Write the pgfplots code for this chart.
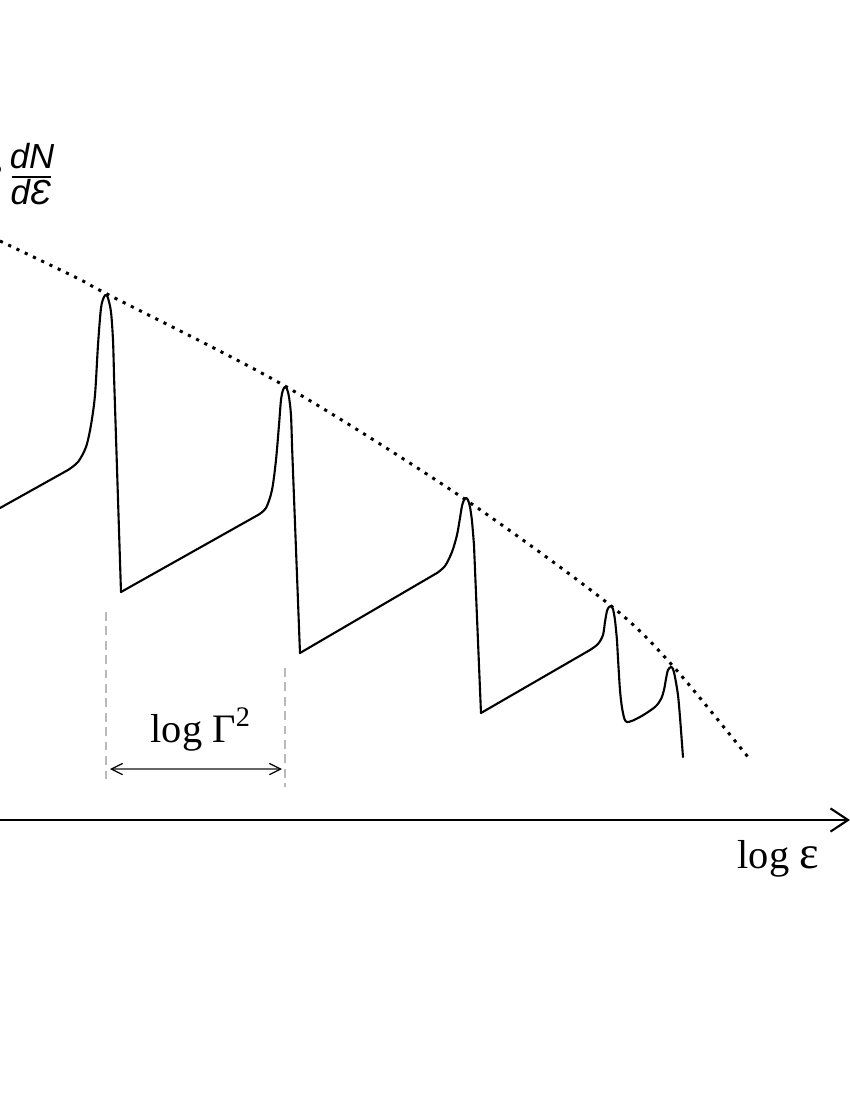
\documentclass[border=0pt]{standalone}
\usepackage{fontspec}
\setmainfont{Liberation Serif}
\newfontfamily\labelsans{Liberation Sans}
\usepackage{graphicx}
\usepackage{pgfplots}
\pgfplotsset{compat=1.18}
\usetikzlibrary{arrows.meta}

% coordinates are in pixels of the 850x1100 sketch, y counted downwards
\pgfplotsset{
  saw/.style={black, line width=0.6pt, no markers, line cap=round, line join=round},
  envelope/.style={black, line width=0.85pt, no markers, smooth, dash pattern=on 0.9pt off 1.7pt},
}

\begin{document}
\begin{tikzpicture}
\useasboundingbox (0,0) rectangle (8.5cm,11cm);
\begin{axis}[
  at={(0,0)}, anchor=south west,
  scale only axis, width=8.5cm, height=11cm,
  xmin=0, xmax=850, ymin=0, ymax=1100,
  y dir=reverse,
  hide axis, clip=false,
]
% envelope
\addplot[envelope] coordinates {
  (0,241) (77,278) (107,294) (285,386) (463,498) (610,605) (672,665) (748,757)
};

% tooth 1
\addplot[saw] coordinates {(0,508) (68,470)};
\addplot[saw, smooth] coordinates {
  (68,470) (78,462) (86,447) (91,425) (95,395) (98,345) (101,308) (104,297) (106,295) (108,298) (111,312) (113,340) (114,375)
};
\addplot[saw] coordinates {(114,375) (121,592)};

% tooth 2
\addplot[saw] coordinates {(121,592) (258,515)};
\addplot[saw, smooth] coordinates {
  (258,515) (266,508) (272,490) (276,460) (279,425) (281,400) (283,390) (285,387) (287,389) (289,397) (291,415) (292,445)
};
\addplot[saw] coordinates {(292,445) (300,653)};

% tooth 3
\addplot[saw] coordinates {(300,653) (437,573)};
\addplot[saw, smooth] coordinates {
  (437,573) (445,566) (452,552) (457,535) (460,518) (462,506) (464,500) (466,498) (468,500) (470,507) (472,521) (474,545)
};
\addplot[saw] coordinates {(474,545) (481,713)};

% tooth 4
\addplot[saw] coordinates {(481,713) (590,650)};
\addplot[saw, smooth] coordinates {
  (590,650) (598,644) (603,635) (605,622) (607,611) (609,607) (611,606) (613,609) (615,620) (617,640)
};
\addplot[saw, smooth] coordinates {
  (617,640) (620,690) (623,713) (627,722) (640,717) (655,707) (661,699) (664,690) (666,679) (668,670) (671,667) (673,669) (675,677) (678,695) (680,717) (683,757)
};

% log Gamma^2 spacing
\draw[gray!55, line width=0.4pt, dash pattern=on 2.5pt off 1.6pt] (axis cs:106,612) -- (axis cs:106,783);
\draw[gray!55, line width=0.4pt, dash pattern=on 2.5pt off 1.6pt] (axis cs:285,668) -- (axis cs:285,787);
\draw[gray!80!black, line width=0.35pt,
  {Straight Barb[length=3.2pt,width=3.2pt,color=black]}-{Straight Barb[length=3.2pt,width=3.2pt,color=black]}]
  (axis cs:110,769) -- (axis cs:282,769);
\node[anchor=base west, inner sep=0pt, font=\fontsize{11.5}{13}\selectfont] at (axis cs:150,742) {log Γ\textsuperscript{2}};

% energy axis
\draw[black, line width=0.6pt, -{Straight Barb[length=5pt,width=6.6pt]}] (axis cs:-20,820) -- (axis cs:850,820);
\node[anchor=base west, inner sep=0pt, font=\fontsize{11.5}{13}\selectfont] at (axis cs:737,868) {log \scalebox{1.15}{ε}};

% y label (cut at the left edge, as in the sketch)
\node[anchor=base, inner sep=0pt, font=\labelsans\itshape\fontsize{9.9}{11}\selectfont] at (axis cs:32,169) {dN};
\draw[black, line width=0.75pt] (axis cs:12,177) -- (axis cs:51,177);
\node[anchor=base, inner sep=0pt, font=\labelsans\itshape\fontsize{9.9}{11}\selectfont] at (axis cs:31,205) {dƐ};
\node[anchor=base east, inner sep=0pt, font=\labelsans\itshape\fontsize{9.9}{11}\selectfont] at (axis cs:4,195)
  {Ɛ\textsuperscript{2}};
\end{axis}
\end{tikzpicture}
\end{document}
